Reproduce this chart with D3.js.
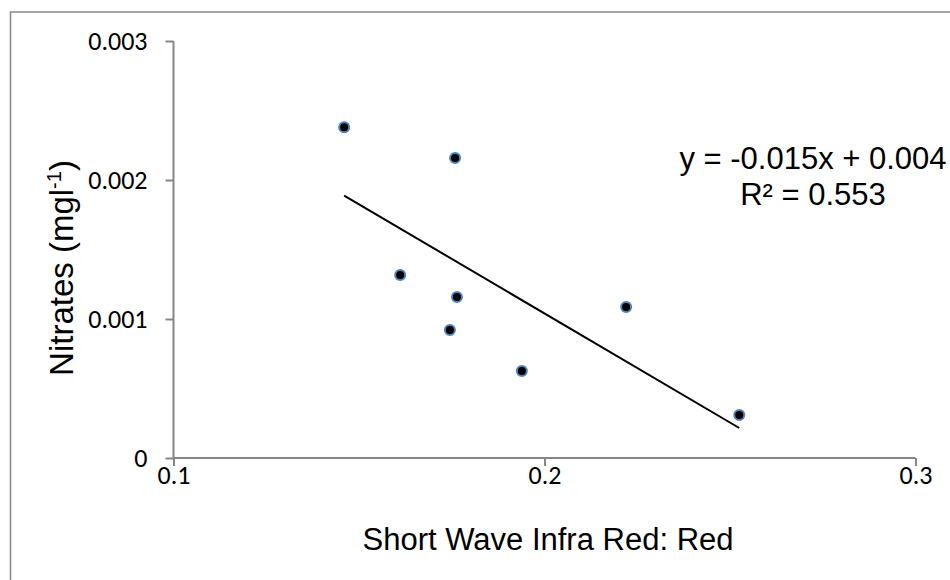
<!DOCTYPE html>
<html>
<head>
<meta charset="utf-8">
<script src="https://cdn.jsdelivr.net/npm/d3@7"></script>
<style>
  html, body { margin: 0; padding: 0; background: #fff; }
  svg { display: block; }
</style>
</head>
<body>
<svg id="chart"></svg>
<script>
// Values
const swirRed = [0.146, 0.1759, 0.1611, 0.1764, 0.1745, 0.1939, 0.222, 0.2525];
const nitrates = [0.00238, 0.002158, 0.001317, 0.001158, 0.000921, 0.000626, 0.001086, 0.000309];
const xTicks = [0.1, 0.2, 0.3];
const yTicks = [0, 0.001, 0.002, 0.003];
// Linear trendline as drawn in the picture
const trendSlope = -0.0157;
const trendIntercept = 0.00418;
const equationText = 'y = -0.015x + 0.004';
const rSquaredText = 'R\u00B2 = 0.553';

const W = 950, H = 580;
const axisColor = '#868686';
const tickFont = "Carlito, Calibri, 'Open Sans', sans-serif";
const labelFont = "Arial, 'Liberation Sans', sans-serif";

const svg = d3.select('#chart').attr('width', W).attr('height', H);

// Outer chart frame (cut off on the right and bottom)
svg.append('rect')
  .attr('x', 10.5).attr('y', 12)
  .attr('width', 1000).attr('height', 1000)
  .attr('fill', 'none')
  .attr('stroke', axisColor)
  .attr('stroke-width', 1.5);

const x = d3.scaleLinear().domain([0.1, 0.3]).range([173.5, 915.5]);
const y = d3.scaleLinear().domain([0, 0.003]).range([458, 41]);

// Y axis
const yAxis = svg.append('g')
  .attr('transform', `translate(${x(0.1)},0)`)
  .call(d3.axisLeft(y).tickValues(yTicks).tickSize(8).tickPadding(18)
    .tickFormat(d => d === 0 ? '0' : d3.format('.3f')(d)));

// X axis
const xAxis = svg.append('g')
  .attr('transform', `translate(0,${y(0)})`)
  .call(d3.axisBottom(x).tickValues(xTicks).tickSize(8).tickPadding(0)
    .tickFormat(d3.format('.1f')));

[xAxis, yAxis].forEach(g => {
  g.select('.domain').attr('stroke', axisColor).attr('stroke-width', 2);
  g.selectAll('.tick line').attr('stroke', axisColor).attr('stroke-width', 2);
  g.selectAll('.tick text')
    .attr('fill', '#000')
    .style('font-family', tickFont)
    .style('font-size', '26px');
});
yAxis.select('.domain').attr('d', `M0,${y(0)}V${y(0.003)}`);
xAxis.select('.domain').attr('d', `M${x(0.1)},0H${x(0.3)}`);

// Trendline
const xMin = d3.min(swirRed), xMax = d3.max(swirRed);
svg.append('line')
  .attr('x1', x(xMin)).attr('y1', y(trendSlope * xMin + trendIntercept))
  .attr('x2', x(xMax)).attr('y2', y(trendSlope * xMax + trendIntercept))
  .attr('stroke', '#000')
  .attr('stroke-width', 2);

// Points
svg.append('g')
  .selectAll('circle')
  .data(swirRed.map((v, i) => [v, nitrates[i]]))
  .join('circle')
  .attr('cx', d => x(d[0]))
  .attr('cy', d => y(d[1]))
  .attr('r', 5)
  .attr('fill', '#000')
  .attr('stroke', '#4f81bd')
  .attr('stroke-width', 2);

// Axis titles
svg.append('text')
  .attr('x', 548).attr('y', 550)
  .attr('text-anchor', 'middle')
  .style('font-family', labelFont)
  .style('font-size', '31px')
  .text('Short Wave Infra Red: Red');

const yTitle = svg.append('text')
  .attr('transform', 'translate(73,268) rotate(-90)')
  .attr('text-anchor', 'middle')
  .style('font-family', labelFont)
  .style('font-size', '33px');
yTitle.append('tspan').text('Nitrates (mgl');
yTitle.append('tspan').attr('dy', -12).style('font-size', '20px').text('-1');
yTitle.append('tspan').attr('dy', 12).text(')');

// Trendline equation
const eq = svg.append('g')
  .style('font-family', labelFont)
  .style('font-size', '31px')
  .attr('text-anchor', 'middle');
eq.append('text').attr('x', 813).attr('y', 169).text(equationText);
eq.append('text').attr('x', 813).attr('y', 205).text(rSquaredText);
</script>
</body>
</html>
